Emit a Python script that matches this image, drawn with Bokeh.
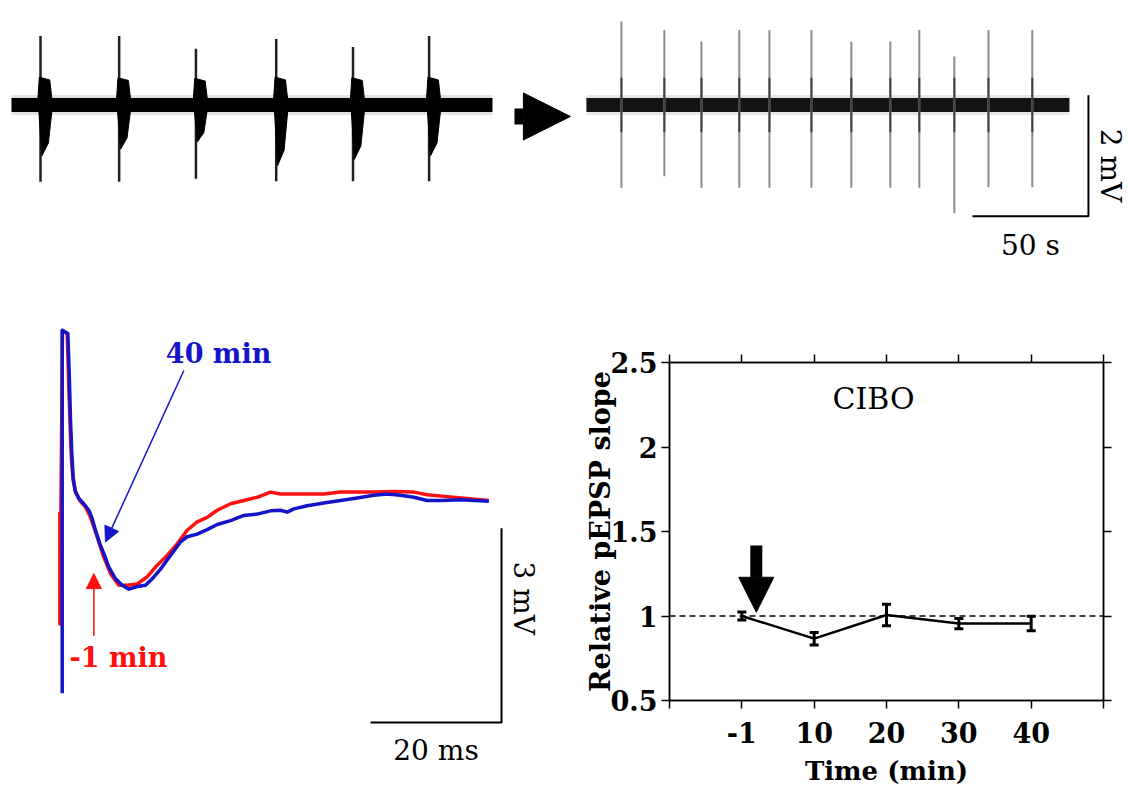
import math
from bokeh.plotting import figure
from bokeh.layouts import column, row
from bokeh.models import (Range1d, Arrow, NormalHead, Span, Whisker, TeeHead,
                          ColumnDataSource, FixedTicker, LinearAxis)
from bokeh.core.properties import value
from bokeh.embed import file_html
from bokeh.resources import INLINE

SERIF = "DejaVu Serif"

# ---------------- data ----------------
# Top: spontaneous field recording before (pre) and after (post) CIBO; time in s, voltage in mV
pre_end = 207.3
pre_burst_t = [12.5, 46.4, 79.5, 114.1, 147.2, 180.0]
pre_spike_up = [1.14, 1.14, 0.93, 1.09, 0.96, 1.14]
pre_spike_down = [1.27, 1.27, 1.22, 1.26, 1.26, 1.26]
pre_blob_up = [0.46, 0.45, 0.44, 0.46, 0.45, 0.46]
pre_blob_down = [0.84, 0.73, 0.61, 1.00, 0.90, 0.84]

post_end = 208.2
post_spike_t = [15.1, 33.6, 49.6, 65.9, 78.9, 97.0, 114.2, 131.0, 143.5, 158.6, 173.3, 192.2]
post_spike_up = [1.38, 1.24, 1.05, 1.24, 1.24, 1.24, 1.05, 1.05, 1.24, 0.80, 1.24, 1.24]
post_spike_down = [1.37, 1.18, 1.37, 1.37, 1.37, 1.37, 1.37, 1.37, 1.37, 1.79, 1.36, 1.36]

top_scale_s = 50      # s
top_scale_mv = 2      # mV

# Bottom left: evoked field EPSP traces (time ms, voltage mV)
red_t = [-0.33, -0.33, 0.08, 0.79, 1.04, 1.25, 1.45, 1.70, 2.06, 2.72, 3.59, 4.35, 4.86, 5.62, 6.39,
         7.40, 8.68, 9.95, 11.48, 13.00, 14.53, 16.06, 17.58, 19.11, 20.64, 22.16, 23.69, 25.73, 27.76,
         29.80, 31.83, 33.36, 36.41, 39.97, 42.52, 45.57, 47.61, 50.66, 53.71, 55.75, 58.80, 61.86, 65.16]
red_v = [-0.18, -1.91, 2.63, 2.58, 1.75, 1.11, 0.62, 0.31, 0.13, 0.00, -0.10, -0.26, -0.41, -0.64, -0.88,
         -1.13, -1.31, -1.31, -1.29, -1.18, -1.00, -0.85, -0.67, -0.46, -0.33, -0.26, -0.15, -0.05, 0.00,
         0.05, 0.13, 0.10, 0.10, 0.10, 0.13, 0.13, 0.13, 0.14, 0.13, 0.09, 0.06, 0.03, 0.00]
blue_t = [0.03, 0.03, 0.89, 1.09, 1.30, 1.50, 1.70, 2.01, 2.57, 3.33, 4.10, 4.61, 5.11, 5.78, 6.39, 7.15,
          8.17, 9.19, 10.20, 11.48, 12.75, 13.77, 15.04, 16.56, 18.09, 19.11, 20.64, 22.16, 23.69, 25.73,
          27.76, 29.80, 31.83, 33.36, 34.38, 35.39, 37.43, 39.97, 42.52, 45.06, 47.61, 49.64, 51.68, 53.71,
          55.75, 57.79, 60.84, 65.16]
blue_v = [-2.98, 2.63, 2.58, 2.01, 1.24, 0.72, 0.36, 0.15, 0.03, -0.05, -0.15, -0.28, -0.46, -0.67, -0.82,
          -1.03, -1.21, -1.31, -1.37, -1.33, -1.31, -1.21, -1.06, -0.85, -0.64, -0.56, -0.52, -0.45, -0.37,
          -0.31, -0.23, -0.21, -0.16, -0.15, -0.18, -0.13, -0.08, -0.04, 0.00, 0.04, 0.08, 0.10, 0.08, 0.05,
          0.00, 0.00, 0.01, -0.01]
bl_scale_ms = 20
bl_scale_mv = 3

# Bottom right: relative pEPSP slope
time_labels = ["-1", "10", "20", "30", "40"]
slope_mean = [1.00, 0.866, 1.006, 0.955, 0.955]
slope_sem = [0.023, 0.037, 0.063, 0.030, 0.043]

# ---------------- layout constants ----------------
POST_SHIFT = 247.8          # where the second record starts on the shared top time axis (s)
BLACK = "black"
BLUE = "#1414c8"
RED = "#ff1010"


def blank(fig):
    fig.grid.visible = False
    fig.outline_line_color = None
    fig.background_fill_color = "white"
    fig.border_fill_color = "white"
    fig.frame_align = False


# ---------------- top panel ----------------
top = figure(width=1132, height=270, x_range=Range1d(-4.74, 483.19), y_range=Range1d(-2.736, 1.727),
             toolbar_location=None, output_backend="svg", x_axis_location=None, y_axis_location=None,
             min_border=0)
blank(top)

post_x0 = POST_SHIFT
post_x1 = POST_SHIFT + post_end

# baseline bands (fuzzy halo + dark core)
top.line([0, pre_end], [0, 0], line_width=20, color="#e2e2e2")
top.line([post_x0, post_x1], [0, 0], line_width=20, color="#e6e6e6")
top.line([0, pre_end], [0, 0], line_width=14, color=BLACK)
top.line([post_x0, post_x1], [0, 0], line_width=14, color="#141414")

# pre bursts
up_xs, up_ys, dn_xs, dn_ys = [], [], [], []
for t, bu, bd in zip(pre_burst_t, pre_blob_up, pre_blob_down):
    up_xs.append([t - 1.3, t - 0.5, t + 4.0, t + 5.2])
    up_ys.append([0, bu, bu * 0.9, 0])
    dn_xs.append([t - 0.9, t + 5.2, t + 3.4, t + 0.6])
    dn_ys.append([0, 0, -bd * 0.75, -bd])
top.segment(x0=pre_burst_t, y0=[-d for d in pre_spike_down], x1=pre_burst_t, y1=pre_spike_up,
            line_width=2.5, color="#202020")
top.patches(up_xs, up_ys, fill_color=BLACK, line_color=BLACK, line_width=1)
top.patches(dn_xs, dn_ys, fill_color=BLACK, line_color=BLACK, line_width=1)

# post spikes
pst = [POST_SHIFT + t for t in post_spike_t]
top.segment(x0=pst, y0=[-d for d in post_spike_down], x1=pst, y1=post_spike_up,
            line_width=2, color="#8c8c8c")
top.segment(x0=pst, y0=[-0.45] * len(pst), x1=pst, y1=[0.45] * len(pst),
            line_width=2, color="#404040")

# arrow between records
top.add_layout(Arrow(end=NormalHead(size=47, fill_color=BLACK, line_color=BLACK),
                     x_start=216.8, y_start=-0.19, x_end=240.9, y_end=-0.19,
                     line_width=16, line_color=BLACK))

# scale bar (50 s, 2 mV)
sb_t1 = POST_SHIFT + 216.4
sb_vtop = 0.16
top.line([sb_t1 - top_scale_s, sb_t1, sb_t1], [sb_vtop - top_scale_mv, sb_vtop - top_scale_mv, sb_vtop],
         line_width=2, color=BLACK)
top.text(x=[sb_t1 - top_scale_s / 2], y=[-2.32], text=[f"{top_scale_s} s"], text_font=value(SERIF),
         text_font_size="28px", text_align="center", text_baseline="middle", text_color=BLACK)
top.text(x=[473.7], y=[-1.0], text=[f"{top_scale_mv} mV"], angle=-math.pi / 2, text_font=value(SERIF),
         text_font_size="28px", text_align="center", text_baseline="middle", text_color=BLACK)

# ---------------- bottom-left panel ----------------
bl = figure(width=566, height=520, x_range=Range1d(-9.39, 77.02), y_range=Range1d(-4.482, 3.555),
            toolbar_location=None, output_backend="svg", x_axis_location=None, y_axis_location=None,
            min_border=0)
blank(bl)
bl.line(red_t, red_v, line_width=3.5, color=RED, line_join="round")
bl.line(blue_t, blue_v, line_width=3.5, color=BLUE, line_join="round")

bl.add_layout(Arrow(end=NormalHead(size=15, fill_color=BLUE, line_color=BLUE),
                    x_start=18.6, y_start=2.01, x_end=6.64, y_end=-0.64, line_width=1.5, line_color=BLUE))
bl.add_layout(Arrow(end=NormalHead(size=15, fill_color=RED, line_color=RED),
                    x_start=4.86, y_start=-2.09, x_end=4.86, y_end=-1.13, line_width=1.5, line_color=RED))
bl.text(x=[23.9], y=[2.27], text=["40 min"], text_font=value(SERIF), text_font_style="bold",
        text_font_size="27px", text_align="center", text_baseline="middle", text_color=BLUE)
bl.text(x=[8.63], y=[-2.43], text=["-1 min"], text_font=value(SERIF), text_font_style="bold",
        text_font_size="27px", text_align="center", text_baseline="middle", text_color=RED)

sb_x = 67.1
sb_y = -3.43
bl.line([sb_x - bl_scale_ms, sb_x, sb_x], [sb_y, sb_y, sb_y + bl_scale_mv], line_width=2, color=BLACK)
bl.text(x=[sb_x - bl_scale_ms / 2], y=[-3.86], text=[f"{bl_scale_ms} ms"], text_font=value(SERIF),
        text_font_size="28px", text_align="center", text_baseline="middle", text_color=BLACK)
bl.text(x=[70.5], y=[-1.51], text=[f"{bl_scale_mv} mV"], angle=-math.pi / 2, text_font=value(SERIF),
        text_font_size="28px", text_align="center", text_baseline="middle", text_color=BLACK)

# ---------------- bottom-right panel ----------------
br = figure(frame_width=434, frame_height=338, x_range=Range1d(0, 6), y_range=Range1d(0.5, 2.5),
            toolbar_location=None, output_backend="svg",
            min_border_left=103, min_border_right=29, min_border_top=92, min_border_bottom=90)
br.grid.visible = False
br.outline_line_color = BLACK
br.outline_line_width = 1.5
br.frame_align = False

xpos = list(range(1, len(time_labels) + 1))
x_overrides = {0: "", len(time_labels) + 1: ""}
for i, lab in zip(xpos, time_labels):
    x_overrides[i] = lab
y_ticks = [0.5, 1, 1.5, 2, 2.5]
y_overrides = {0.5: "0.5", 1: "1", 1.5: "1.5", 2: "2", 2.5: "2.5"}

br.add_layout(LinearAxis(), "above")
br.add_layout(LinearAxis(), "right")
for ax in br.xaxis:
    ax.ticker = FixedTicker(ticks=list(range(0, len(time_labels) + 2)), minor_ticks=[])
for ax in br.yaxis:
    ax.ticker = FixedTicker(ticks=y_ticks, minor_ticks=[])
for ax in br.axis:
    ax.axis_line_color = BLACK
    ax.axis_line_width = 1.5
    ax.major_tick_line_color = BLACK
    ax.major_tick_line_width = 1.5
    ax.major_tick_out = 8
    ax.major_tick_in = 0
    ax.minor_tick_out = 0
    ax.minor_tick_in = 0
    ax.major_label_text_font = SERIF
    ax.major_label_text_font_style = "bold"
    ax.major_label_text_font_size = "27px"
    ax.major_label_text_color = BLACK

br.above[0].major_label_text_color = None
br.right[0].major_label_text_color = None

bottom_ax = br.below[0]
bottom_ax.major_label_overrides = x_overrides
bottom_ax.major_label_standoff = 13
bottom_ax.axis_label = "Time (min)"
bottom_ax.axis_label_text_font = SERIF
bottom_ax.axis_label_text_font_style = "bold"
bottom_ax.axis_label_text_font_size = "26px"
bottom_ax.axis_label_text_color = BLACK
bottom_ax.axis_label_standoff = 10

left_ax = br.left[0]
left_ax.major_label_overrides = y_overrides
left_ax.major_label_standoff = 4
left_ax.axis_label = "Relative pEPSP slope"
left_ax.axis_label_text_font = SERIF
left_ax.axis_label_text_font_style = "bold"
left_ax.axis_label_text_font_size = "27px"
left_ax.axis_label_text_color = BLACK
left_ax.axis_label_standoff = -8

br.add_layout(Span(location=1, dimension="width", line_dash="6 4", line_width=1.5, line_color=BLACK))

src = ColumnDataSource(dict(x=xpos, y=slope_mean,
                            upper=[m + s for m, s in zip(slope_mean, slope_sem)],
                            lower=[m - s for m, s in zip(slope_mean, slope_sem)]))
br.line("x", "y", source=src, line_width=2.5, color=BLACK)
br.add_layout(Whisker(source=src, base="x", upper="upper", lower="lower", line_width=3, line_color=BLACK,
                      upper_head=TeeHead(size=9, line_width=3, line_color=BLACK),
                      lower_head=TeeHead(size=9, line_width=3, line_color=BLACK)))

br.add_layout(Arrow(end=NormalHead(size=35, fill_color=BLACK, line_color=BLACK),
                    x_start=1.2, y_start=1.417, x_end=1.2, y_end=1.022, line_width=12, line_color=BLACK))

br.text(x=[2.82], y=[2.287], text=["CIBO"], text_font=value(SERIF), text_font_size="30px",
        text_align="center", text_baseline="middle", text_color=BLACK)

layout = column(top, row(bl, br))
open("out.html", "w").write(file_html(layout, INLINE))
